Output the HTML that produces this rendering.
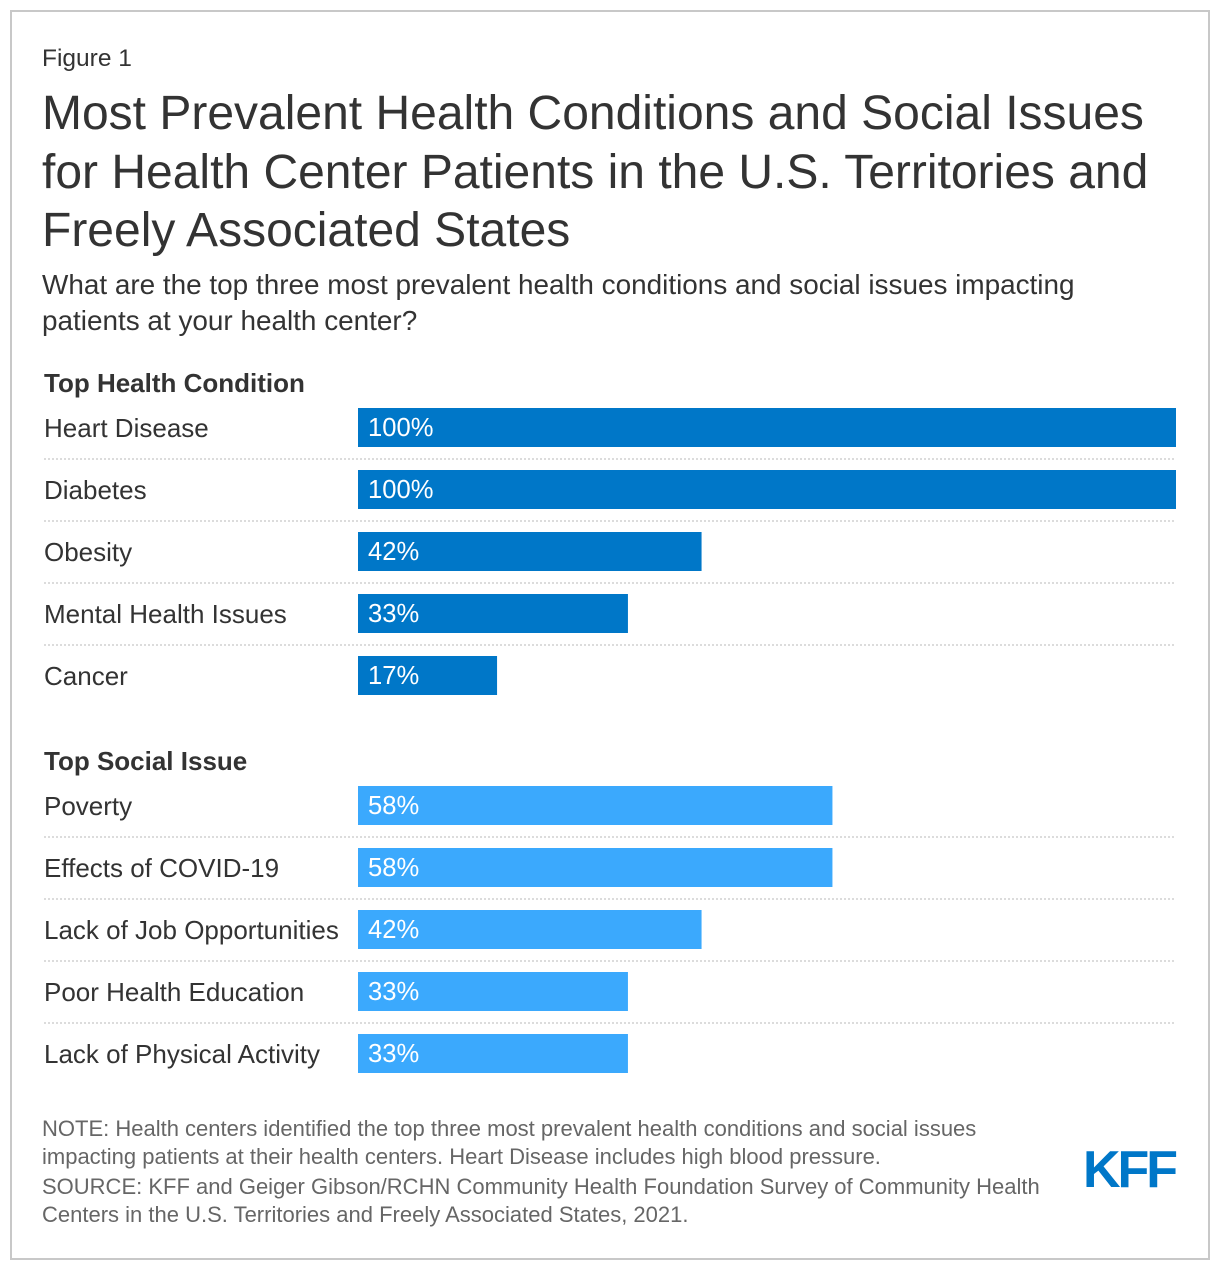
<!DOCTYPE html>
<html><head><meta charset="utf-8"><style>
body{margin:0;background:#fff}
svg{display:block;font-family:"Liberation Sans",Arial,sans-serif}
</style></head><body>
<svg id="chart" width="1220" height="1270" viewBox="0 0 1220 1270">
<rect x="11" y="11" width="1198" height="1248" fill="#fff" stroke="#c8c8c8" stroke-width="2"/>
<text x="42" y="66" font-size="24.5" fill="#333">Figure 1</text>
<g font-size="48" fill="#333">
<text x="42" y="129">Most Prevalent Health Conditions and Social Issues</text>
<text x="42" y="188">for Health Center Patients in the U.S. Territories and</text>
<text x="42" y="246">Freely Associated States</text>
</g>
<g font-size="27.9" fill="#333">
<text x="42" y="294">What are the top three most prevalent health conditions and social issues impacting</text>
<text x="42" y="330">patients at your health center?</text>
</g>
<g id="groups"></g>
<g font-size="22" fill="#666">
<text x="42" y="1136">NOTE: Health centers identified the top three most prevalent health conditions and social issues</text>
<text x="42" y="1164">impacting patients at their health centers. Heart Disease includes high blood pressure.</text>
<text x="42" y="1194">SOURCE: KFF and Geiger Gibson/RCHN Community Health Foundation Survey of Community Health</text>
<text x="42" y="1222">Centers in the U.S. Territories and Freely Associated States, 2021.</text>
</g>
<text x="1129" y="1187" font-size="52" font-weight="bold" fill="#0077c8" text-anchor="middle" letter-spacing="-3">KFF</text>
</svg>
<script>
const healthCategories = ["Heart Disease","Diabetes","Obesity","Mental Health Issues","Cancer"];
const healthValues = [100,100,42,33,17];
const socialCategories = ["Poverty","Effects of COVID-19","Lack of Job Opportunities","Poor Health Education","Lack of Physical Activity"];
const socialValues = [58,58,42,33,33];
const groupTitles = ["Top Health Condition","Top Social Issue"];

const NS = "http://www.w3.org/2000/svg";
const x0 = 358, fullW = 818, rowH = 62, barH = 39;
function xScale(v){ return v/100*fullW; }
function mk(tag, attrs, parent){ const e=document.createElementNS(NS,tag); for(const k in attrs) e.setAttribute(k,attrs[k]); parent.appendChild(e); return e; }
const root = document.getElementById("groups");
const groups = [
  {title:groupTitles[0], cats:healthCategories, vals:healthValues, color:"#0077c8", top:408, head:392},
  {title:groupTitles[1], cats:socialCategories, vals:socialValues, color:"#3ba9fd", top:786, head:770}
];
groups.forEach((g,gi)=>{
  const h = mk("text",{x:44,y:g.head,"font-size":26,"font-weight":"bold",fill:"#333"},root);
  
  
  h.textContent = g.title;
  g.cats.forEach((c,i)=>{
    const y = g.top + i*rowH;
    const lbl = mk("text",{x:44,y:y+29,"font-size":26,fill:"#333"},root);
    
    
    lbl.textContent = c;
    const b = mk("rect",{x:x0,y:y,width:xScale(g.vals[i]),height:barH,fill:g.color},root);
    
    
    const v = mk("text",{x:x0+10,y:y+28,"font-size":25.6,fill:"#fff"},root);
    
    
    v.textContent = g.vals[i] + "%";
    if(i < g.cats.length-1){
      const l = mk("line",{x1:44,x2:1176,y1:y+51,y2:y+51,stroke:"#d0d0d0","stroke-width":1.5,"stroke-dasharray":"2 2"},root);
      
      
    }
  });
});
</script>
</body></html>
